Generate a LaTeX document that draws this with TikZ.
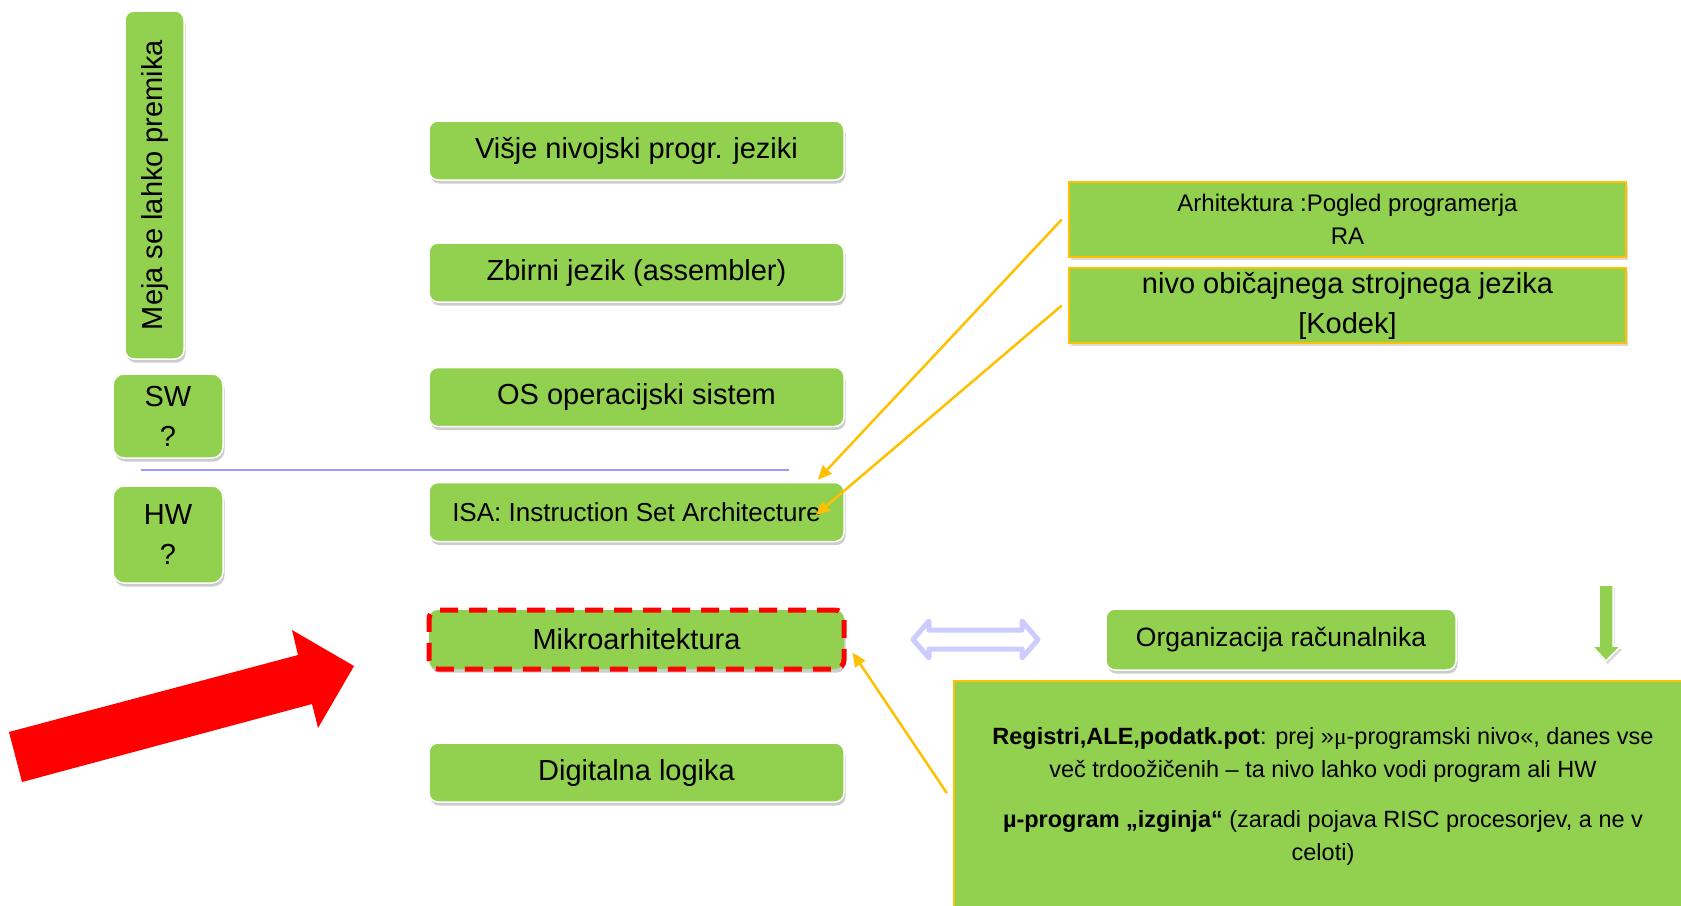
\documentclass[tikz,border=0pt]{standalone}
\usepackage{fontspec}
\setmainfont{Liberation Sans}
\newfontfamily\mufont{Liberation Serif}
\usetikzlibrary{shadows,arrows.meta,calc}
\definecolor{lvlgreen}{HTML}{92D050}
\definecolor{lvlorange}{HTML}{FFC000}
\definecolor{lvlblue}{HTML}{9999FF}
\definecolor{lvllilac}{HTML}{CCCCFF}
\begin{document}
\begin{tikzpicture}[x=1pt, y=-1pt, >={Triangle[length=14pt,width=12pt]},
	every node/.style={inner sep=0pt, align=center, text=black},
	level/.style={fill=lvlgreen, draw=white, line width=1.5pt, rounded corners=9pt,
		minimum width=415pt, minimum height=59pt, font=\fontsize{29}{40}\selectfont,
		drop shadow={shadow xshift=1.5pt, shadow yshift=-3.5pt, opacity=0.4}},
	note/.style={fill=lvlgreen, draw=lvlorange, line width=2.5pt,
		drop shadow={shadow xshift=2pt, shadow yshift=-3pt, opacity=0.3}},
	link/.style={->, lvlorange, line width=2.5pt}]
	\useasboundingbox (0,0) rectangle (1681,905);
	\clip (0,0) rectangle (1681,905);
	
	% leva stran: meja, SW, HW
	\node[level, rotate=90, minimum width=348pt, minimum height=59pt] (meja) at (154.5,185) {Meja se lahko premika};
	\node[level, minimum width=110pt, minimum height=84pt, rounded corners=11pt] (sw) at (168,416) {SW\\?};
	\node[level, minimum width=110pt, minimum height=97pt, rounded corners=11pt] (hw) at (168,534.5) {HW\\?};
	
	\coordinate (divL) at (141,470);
	\coordinate (divR) at (789,470);
	\draw[lvlblue, line width=1.5pt] (divL) -- (divR);
	
	% nivoji
	\node[level] (high) at (636.5,150.5) {Višje nivojski progr. jeziki};
	\node[level] (asm) at (636.5,272.5) {Zbirni jezik (assembler)};
	\node[level] (os) at (636.5,397) {OS operacijski sistem};
	\node[level, font=\fontsize{26}{36}\selectfont] (isa) at (636.5,512) {ISA: Instruction Set Architecture};
	\node[level, draw=red, line width=5pt, dash pattern=on 18pt off 11pt] (mikro) at (636.5,639.5) {Mikroarhitektura};
	\node[level] (logic) at (636.5,772.5) {Digitalna logika};
	
	% opombe desno
	\node[note, minimum width=557pt, minimum height=75pt, font=\fontsize{24}{33}\selectfont] (arh) at (1347.5,219.5) {Arhitektura :Pogled programerja\\RA};
	\node[note, minimum width=557pt, minimum height=75pt, font=\fontsize{29}{40}\selectfont] (nivo) at (1347.5,305.5) {nivo običajnega strojnega jezika\\{[Kodek]}};
	\node[level, minimum width=350pt, minimum height=61pt, font=\fontsize{26.5}{36}\selectfont] (org) at (1281,639.5) {Organizacija računalnika};
	\node[note, minimum width=738pt, minimum height=230pt, font=\fontsize{23.5}{33}\selectfont] (reg) at (1323,796)
		{\textbf{Registri,ALE,podatk.pot}: prej »{\mufont μ}-programski nivo«, danes vse\\
		 več trdoožičenih – ta nivo lahko vodi program ali HW\\[17pt]
		 \textbf{µ-program „izginja“} (zaradi pojava RISC procesorjev, a ne v\\
		 celoti)};
	
	% puscice
	\draw[link] ($(arh.west)+(-6,0)$) -- ($(isa.north east)+(-27,-2)$);
	\draw[link] ($(nivo.west)+(-6,0)$) -- ($(isa.east)+(-29,3)$);
	\draw[link] ($(reg.west)+(-6,-3)$) -- ($(mikro.east)+(6,13)$);
	
	\draw[lvllilac, line width=5pt, line join=round] (913,639.5) -- (929,621) -- (929,630) -- (1022,630) -- (1022,621)
		-- (1038,639.5) -- (1022,658) -- (1022,649) -- (929,649) -- (929,658) -- cycle;
	\filldraw[fill=lvlgreen, draw=white, line width=1.5pt, drop shadow={shadow xshift=1.5pt, shadow yshift=-3pt, opacity=0.3}]
		(1599,585) -- (1613,585) -- (1613,646) -- (1621,646) -- (1606,661) -- (1592,646) -- (1599,646) -- cycle;
	\fill[red] (9,732) -- (298,655) -- (292,630) -- (354,666) -- (318,728) -- (312,704) -- (22,782) -- cycle;
\end{tikzpicture}
\end{document}
